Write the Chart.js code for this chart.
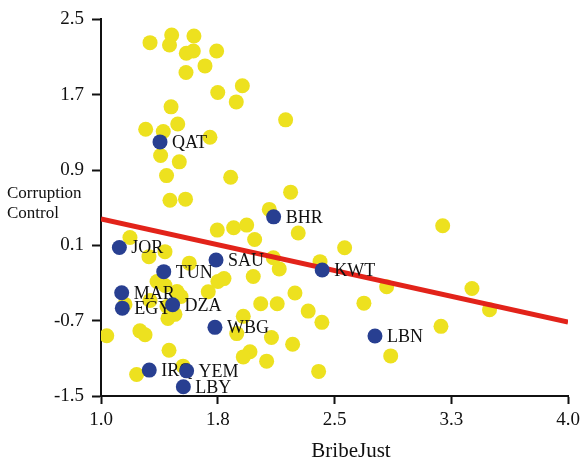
<!DOCTYPE html>
<html>
<head>
<meta charset="utf-8">
<script src="https://cdn.jsdelivr.net/npm/chart.js@4/dist/chart.umd.min.js"></script>
<style>
  html,body{margin:0;padding:0;background:#fff;}
  canvas{display:block;}
</style>
</head>
<body>
<canvas id="c" width="585" height="461"></canvas>
<script>
// other countries (yellow)
const otherX = [1.315,1.454,1.440,1.597,1.548,1.593,1.743,1.668,1.546,1.750,
  1.908,1.869,1.450,1.493,1.287,1.400,1.700,2.186,1.383,1.503,
  1.421,1.833,1.443,1.543,2.218,2.081,1.747,1.852,1.936,1.987,
  2.267,2.565,3.195,1.186,1.308,1.411,1.567,1.751,1.790,1.689,
  1.978,2.107,2.145,2.407,2.835,2.246,2.689,2.026,2.132,2.331,
  1.914,2.419,2.095,2.231,1.957,1.914,2.064,2.398,2.861,3.383,
  3.496,3.184,1.872,1.037,1.250,1.283,1.437,1.229,1.527,1.360,
  1.411,1.488,1.514,1.315,1.424,1.475,1.430,1.154];
const otherY = [2.253,2.334,2.228,2.323,2.140,2.165,2.165,2.006,1.936,1.724,
  1.795,1.624,1.571,1.389,1.333,1.309,1.248,1.433,1.055,0.987,
  0.841,0.823,0.579,0.591,0.665,0.482,0.262,0.287,0.315,0.163,
  0.232,0.075,0.308,0.184,-0.020,0.033,-0.089,-0.284,-0.253,-0.393,
  -0.231,-0.031,-0.150,-0.073,-0.340,-0.406,-0.514,-0.520,-0.520,-0.598,
  -0.654,-0.718,-0.879,-0.950,-1.030,-1.085,-1.130,-1.239,-1.074,-0.358,
  -0.584,-0.760,-0.837,-0.860,-0.808,-0.850,-1.014,-1.271,-1.183,-0.284,
  -0.327,-0.390,-0.443,-0.485,-0.549,-0.633,-0.676,-0.527];

// arab countries (blue, labelled)
const arabCodes = ['QAT','BHR','JOR','SAU','TUN','KWT','MAR','EGY','DZA','WBG','LBN','IRQ','YEM','LBY'];
const arabX = [1.379,2.109,1.118,1.739,1.403,2.421,1.133,1.137,1.460,1.732,2.760,1.310,1.550,1.529];
const arabY = [1.199,0.403,0.078,-0.055,-0.179,-0.161,-0.404,-0.567,-0.531,-0.771,-0.863,-1.225,-1.233,-1.402];

// fitted line
const fitX = [1.0, 4.0];
const fitY = [0.380, -0.715];

const xTickVals = [1.0, 1.75, 2.5, 3.25, 4.0];
const xTickLabels = ['1.0','1.8','2.5','3.3','4.0'];
const yTickVals = [-1.5, -0.7, 0.1, 0.9, 1.7, 2.5];
const yTickLabels = ['-1.5','-0.7','0.1','0.9','1.7','2.5'];

const SERIF = '"Liberation Serif","Times New Roman",serif';

const pts = (xs,ys)=>xs.map((x,i)=>({x, y:ys[i]}));

const textPlugin = {
  id:'texts',
  afterDatasetDraw(chart, args){
    if(args.index !== 1) return;
    const ctx = chart.ctx;
    const meta = chart.getDatasetMeta(2);
    ctx.save();
    ctx.font = '18px '+SERIF;
    ctx.fillStyle = '#111';
    ctx.textAlign = 'left';
    ctx.textBaseline = 'alphabetic';
    meta.data.forEach((p,i)=>{
      ctx.fillText(arabCodes[i], p.x+12, p.y+6);
    });
    ctx.restore();
  },
  afterDraw(chart){
    const ctx = chart.ctx;
    ctx.save();
    ctx.fillStyle = '#111';
    ctx.textBaseline = 'alphabetic';
    ctx.font = '17px '+SERIF;
    ctx.textAlign = 'left';
    ctx.fillText('Corruption', 7, 198);
    ctx.fillText('Control', 7, 218);
    ctx.font = '21px '+SERIF;
    ctx.textAlign = 'center';
    ctx.fillText('BribeJust', chart.chartArea.left + 250, 457);
    ctx.restore();
  }
};

new Chart(document.getElementById('c'), {
  type:'scatter',
  data:{
    datasets:[
      { label:'Other', data: pts(otherX, otherY), backgroundColor:'#EDE11F',
        pointRadius:7.5, borderWidth:0, order:3 },
      { type:'line', label:'Fit', data: pts(fitX, fitY), borderColor:'#E2231A',
        borderWidth:5, pointRadius:0, fill:false, order:2 },
      { label:'Arab', data: pts(arabX, arabY), backgroundColor:'#283F91',
        pointRadius:7.5, borderWidth:0, order:1 }
    ]
  },
  options:{
    responsive:false,
    animation:false,
    layout:{ padding:{ top:17, right:17, bottom:0, left:0 } },
    plugins:{ legend:{display:false}, tooltip:{enabled:false} },
    scales:{
      x:{
        type:'linear', min:1, max:4,
        afterFit(s){ s.height = 65; },
        afterBuildTicks(s){ s.ticks = xTickVals.map(v=>({value:v})); },
        ticks:{ color:'#111', font:{family:SERIF, size:19}, padding:5, maxRotation:0,
          callback:(v,i)=>xTickLabels[i] },
        grid:{ display:true, drawOnChartArea:false, drawTicks:true, tickLength:8,
          tickColor:'#111', tickWidth:2 },
        border:{ display:true, color:'#111', width:2 }
      },
      y:{
        type:'linear', min:-1.5, max:2.5,
        afterFit(s){ s.width = 101; },
        afterBuildTicks(s){ s.ticks = yTickVals.map(v=>({value:v})); },
        ticks:{ color:'#111', font:{family:SERIF, size:19}, padding:8,
          callback:(v,i)=>yTickLabels[i] },
        grid:{ display:true, drawOnChartArea:false, drawTicks:true, tickLength:9,
          tickColor:'#111', tickWidth:2 },
        border:{ display:true, color:'#111', width:2 }
      }
    }
  },
  plugins:[textPlugin]
});
</script>
</body>
</html>
